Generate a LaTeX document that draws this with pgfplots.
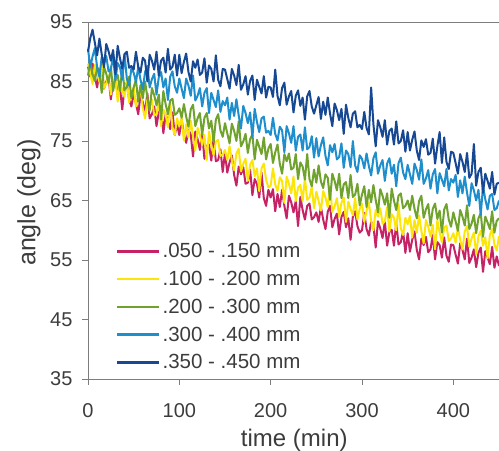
\documentclass[border=0pt]{standalone}
\usepackage{pgfplots}
\pgfplotsset{compat=1.18}
\usepackage{pgfplotstable}
\usepackage{fontspec}
\setmainfont{Liberation Sans}
\definecolor{cmag}{RGB}{198,34,102}
\definecolor{cyel}{RGB}{252,230,10}
\definecolor{cgrn}{RGB}{112,162,46}
\definecolor{clb}{RGB}{30,142,204}
\definecolor{cdb}{RGB}{22,72,148}
\definecolor{txtgray}{RGB}{60,60,60}
\definecolor{axgray}{RGB}{125,125,125}
\pgfplotstableread{
x m y g lb db
0 87.5 88.0 86.0 90.5 90.0
2.5 85.8 86.3 88.4 87.4 92.3
5 88.0 84.6 86.2 89.2 93.7
7.5 85.8 87.8 85.1 90.6 91.5
10 84.0 86.6 87.4 87.4 89.4
12.5 86.8 84.9 86.8 85.8 92.2
15 87.5 88.2 83.1 89.1 89.6
17.5 83.8 83.9 87.5 88.0 87.4
20 85.0 84.7 86.3 89.3 91.3
22.5 85.8 86.0 84.7 86.7 90.1
25 82.0 82.8 87.5 87.0 88.5
27.5 84.8 85.0 83.4 89.4 90.3
30 85.5 85.8 85.7 85.2 86.2
32.5 82.8 81.6 86.1 88.1 91.0
35 84.0 84.9 83.4 87.4 88.9
37.5 80.3 83.6 87.3 85.3 87.2
40 84.0 82.4 83.6 89.6 89.6
42.5 84.8 85.2 84.0 85.5 90.0
45 82.0 81.5 85.8 84.3 87.3
47.5 80.8 83.2 82.2 87.2 87.6
50 83.0 84.0 84.0 86.5 87.0
52.5 81.3 80.8 85.3 84.9 90.0
55 79.5 82.5 81.6 87.4 87.5
57.5 82.8 83.8 84.4 85.3 86.5
60 81.5 80.5 82.2 83.7 89.0
62.5 79.8 78.8 85.0 86.6 88.5
65 83.0 82.0 82.3 87.6 85.0
67.5 78.8 80.8 80.1 84.0 89.5
70 79.5 82.0 83.9 85.4 88.5
72.5 80.8 79.3 82.7 86.3 87.0
75 77.5 79.5 81.0 82.8 90.0
77.5 79.8 81.8 82.8 85.7 86.0
80 80.5 77.5 78.6 86.6 88.5
82.5 76.3 80.3 83.4 84.0 89.0
85 79.5 79.5 81.2 85.5 86.5
87.5 78.3 77.3 79.5 81.9 90.5
90 77.0 81.5 81.8 85.8 87.0
92.5 79.8 77.3 82.1 86.7 87.5
95 76.0 76.0 79.4 84.2 89.5
97.5 77.8 78.8 79.7 83.1 86.0
100 76.0 77.5 80.5 85.5 89.5
102.5 78.7 78.8 78.9 83.8 86.4
105 76.0 75.1 81.2 82.2 88.3
107.5 74.7 77.8 79.1 85.5 89.7
110 76.9 75.6 77.4 84.3 86.6
112.5 76.1 78.4 80.3 82.6 85.0
115 72.4 75.7 81.1 86.0 88.4
117.5 76.6 73.4 77.5 81.8 87.3
120 75.3 77.2 78.8 82.6 88.7
122.5 73.5 76.0 79.7 83.9 86.1
125 76.3 74.3 76.0 80.8 86.5
127.5 72.0 76.0 78.9 83.1 88.9
130 74.2 71.8 79.7 83.9 84.8
132.5 74.4 76.6 77.1 79.7 87.7
135 71.7 74.4 78.4 83.1 87.1
137.5 75.4 72.6 74.8 81.9 85.0
140 71.6 74.9 78.6 80.7 89.4
142.5 71.8 75.2 79.5 83.5 85.3
145 73.6 72.5 76.8 79.9 84.2
147.5 69.8 72.7 75.7 81.7 87.1
150 73.0 73.5 78.0 81.0 87.0
152.5 69.7 71.8 76.3 82.3 85.4
155 71.4 74.1 74.6 78.6 83.8
157.5 72.6 71.8 77.9 81.4 87.1
160 69.3 70.1 76.7 79.2 86.0
162.5 67.5 72.9 75.0 82.0 84.4
165 70.7 73.7 78.3 79.3 87.8
167.5 69.4 69.9 74.1 77.1 83.6
170 70.6 71.2 74.9 80.9 84.5
172.5 67.8 72.0 76.2 79.7 85.9
175 68.0 68.3 73.0 78.0 82.8
177.5 70.2 71.0 75.3 79.8 85.1
180 65.9 71.8 76.1 75.6 86.0
182.5 68.6 69.1 71.9 80.4 81.9
185 67.8 70.4 75.2 78.2 85.3
187.5 65.5 66.6 74.0 76.5 84.1
190 69.7 70.4 72.8 78.8 83.0
192.5 65.4 71.2 75.6 79.1 85.9
195 64.1 68.5 71.9 76.4 82.3
197.5 66.8 67.2 73.7 76.7 84.1
200 65.5 67.5 74.5 76.0 84.0
202.5 66.9 70.4 71.3 78.9 82.4
205 63.2 67.7 73.1 76.2 87.0
207.5 66.1 66.6 74.4 75.1 82.6
210 63.9 68.9 71.2 77.4 81.0
212.5 66.8 68.3 69.5 76.8 83.9
215 64.1 64.6 72.8 73.1 84.8
217.5 62.0 69.0 71.6 77.5 81.1
220 65.8 67.8 72.9 76.3 82.5
222.5 64.7 66.2 70.2 74.7 83.4
225 63.0 69.0 70.5 77.5 79.8
227.5 64.9 64.9 72.8 73.4 82.6
230 60.7 67.2 68.6 75.7 83.5
232.5 65.6 67.6 71.4 76.1 80.9
235 63.4 64.9 70.7 73.4 82.3
237.5 61.8 68.8 68.5 77.3 78.6
240 64.1 65.1 72.8 73.6 82.5
242.5 64.5 65.5 68.6 74.0 83.4
245 61.8 67.3 67.4 75.8 80.8
247.5 62.2 63.7 70.2 72.2 79.6
250 63.0 66.5 68.0 75.5 81.0
252.5 61.4 64.9 70.9 72.4 82.4
255 63.9 63.3 68.2 74.3 78.7
257.5 61.8 66.6 67.1 75.6 81.6
260 60.2 65.5 69.4 72.5 79.4
262.5 63.1 63.9 68.8 70.9 82.3
265 64.1 67.3 65.1 74.3 79.6
267.5 60.5 63.1 69.5 73.1 77.5
270 61.9 64.0 68.3 74.5 81.3
272.5 62.8 65.4 66.7 71.9 80.2
275 59.3 62.3 69.5 72.3 78.5
277.5 62.2 64.6 65.4 74.6 80.4
280 63.1 65.5 67.7 70.5 76.2
282.5 60.5 61.4 68.1 73.4 81.1
285 62.0 64.8 65.4 72.8 78.9
287.5 58.4 63.6 69.3 70.6 77.3
290 62.3 62.5 65.6 75.0 79.6
292.5 63.2 65.4 66.0 70.9 80.0
295 60.7 61.8 67.8 69.8 77.3
297.5 59.6 63.6 64.2 72.6 77.7
300 60.0 64.5 66.0 72.0 77.0
302.5 62.9 61.4 67.4 70.4 79.9
305 60.2 63.3 63.9 72.9 77.2
307.5 59.1 64.7 66.8 70.8 76.1
310 61.4 61.6 64.7 69.2 84.0
312.5 60.8 60.0 67.6 72.1 77.8
315 57.1 63.4 65.1 73.1 74.1
317.5 61.5 62.3 63.0 69.5 78.5
320 60.3 63.7 66.9 70.9 77.3
322.5 58.7 61.1 65.8 71.8 75.7
325 61.5 61.5 64.3 68.3 78.5
327.5 57.4 63.9 66.2 71.2 74.4
330 59.7 59.8 62.1 72.1 76.7
332.5 60.1 62.7 67.0 69.5 77.1
335 57.4 62.1 65.0 71.0 74.4
337.5 61.3 60.0 63.4 67.4 78.3
340 57.6 64.4 65.8 71.3 74.6
342.5 58.0 60.3 66.2 72.2 75.0
345 59.8 59.2 63.7 69.7 76.8
347.5 56.2 62.1 64.1 68.6 73.2
350 59.5 61.0 65.0 71.0 76.5
352.5 56.4 62.4 63.4 69.4 73.4
355 58.4 58.8 65.8 67.8 75.2
357.5 59.8 61.7 63.6 71.2 76.6
360 56.7 59.6 62.0 70.1 73.4
362.5 55.1 62.5 64.9 68.5 71.8
365 58.6 59.9 65.8 71.9 75.1
367.5 57.5 57.8 62.1 67.8 74.0
370 58.9 61.7 63.5 68.7 75.3
372.5 56.3 60.6 64.4 70.1 72.7
375 56.8 59.0 60.8 67.0 73.0
377.5 59.2 60.9 63.6 69.4 75.4
380 55.1 56.8 64.5 70.3 71.2
382.5 58.0 61.7 61.9 66.2 74.1
385 57.5 59.6 63.3 69.6 76.5
387.5 55.4 58.0 59.6 68.5 71.3
390 58.8 60.4 63.5 67.4 75.6
392.5 55.7 60.8 64.4 70.3 71.5
395 54.7 58.2 61.8 66.7 70.3
397.5 57.6 58.6 60.6 68.6 73.2
400 57.5 59.5 63.0 68.0 73.0
402.5 55.9 57.9 61.5 69.3 71.3
405 54.4 60.4 59.9 65.6 69.5
407.5 57.8 58.4 63.4 68.4 72.8
410 56.7 56.8 62.3 66.2 71.5
412.5 55.1 59.8 60.8 69.0 69.8
415 58.6 60.7 64.2 66.3 73.0
417.5 54.5 57.2 60.2 64.1 68.8
420 55.4 58.6 61.1 67.9 69.5
422.5 56.8 59.6 62.6 66.7 74.5
425 53.8 56.0 59.5 65.0 67.5
427.5 56.2 59.0 62.0 66.8 69.8
430 57.1 59.9 62.9 62.6 70.5
432.5 53.0 57.4 58.9 67.4 66.3
435 56.5 58.8 62.3 65.2 69.5
437.5 55.4 55.3 61.3 63.5 68.3
440 54.3 59.2 60.2 65.8 67.0
442.5 57.2 60.2 63.2 66.1 69.8
445 53.7 57.6 59.6 63.4 66.0
447.5 55.6 56.6 61.6 63.7 67.8
450 54.0 59.0 62.0 65.0 68.0
}\datatable
\begin{document}
\begin{tikzpicture}
\useasboundingbox (-88bp,-72bp) rectangle (411bp,379bp);
\begin{axis}[
  at={(0,0)}, anchor=south west,
  scale only axis, width=411bp, height=357bp,
  xmin=0, xmax=450, ymin=35, ymax=95,
  clip=false,
  axis line style={draw=none},
  xtick pos=left, ytick pos=left,
  xtick={0,100,200,300,400}, ytick={35,45,...,95},
  tick align=outside, major tick length=6bp,
  tick style={draw=none},
  /pgf/number format/assume math mode=true,
  tick label style={font=\fontsize{20bp}{24bp}\selectfont, text=txtgray},
  xticklabel style={yshift=-15bp},
  yticklabel style={xshift=-6bp},
  xlabel={time (min)}, ylabel={angle (deg)},
  xlabel style={font=\fontsize{24bp}{28bp}\selectfont, text=txtgray, at={(axis description cs:0.502,0)}, anchor=center, yshift=-61bp},
  ylabel style={font=\fontsize{25bp}{28bp}\selectfont, text=txtgray, at={(axis description cs:0,0.494)}, anchor=center, yshift=59bp},
  legend style={at={(axis description cs:0.068,0.386)}, anchor=north west, draw=none, fill=none,
    font=\fontsize{20.5bp}{24bp}\selectfont, text=txtgray, row sep=8bp, inner sep=0pt},
  legend cell align=left,
  legend image code/.code={\draw[#1, line width=2.5bp] (0bp,0bp) -- (42bp,0bp);},
  every axis plot/.append style={line width=2bp, line join=round},
]
\draw[axgray, line width=0.9bp] (rel axis cs:0,1) -- (rel axis cs:0,0) -- (rel axis cs:1,0);
\draw[axgray, line width=0.9bp] (rel axis cs:0,1) -- (rel axis cs:1,1);
\draw[axgray, line width=0.9bp] (axis cs:0,35) -- ([yshift=-6bp]axis cs:0,35);
\draw[axgray, line width=0.9bp] (axis cs:100,35) -- ([yshift=-6bp]axis cs:100,35);
\draw[axgray, line width=0.9bp] (axis cs:200,35) -- ([yshift=-6bp]axis cs:200,35);
\draw[axgray, line width=0.9bp] (axis cs:300,35) -- ([yshift=-6bp]axis cs:300,35);
\draw[axgray, line width=0.9bp] (axis cs:400,35) -- ([yshift=-6bp]axis cs:400,35);
\draw[axgray, line width=0.9bp] (axis cs:0,35) -- ([xshift=-6bp]axis cs:0,35);
\draw[axgray, line width=0.9bp] (axis cs:0,45) -- ([xshift=-6bp]axis cs:0,45);
\draw[axgray, line width=0.9bp] (axis cs:0,55) -- ([xshift=-6bp]axis cs:0,55);
\draw[axgray, line width=0.9bp] (axis cs:0,65) -- ([xshift=-6bp]axis cs:0,65);
\draw[axgray, line width=0.9bp] (axis cs:0,75) -- ([xshift=-6bp]axis cs:0,75);
\draw[axgray, line width=0.9bp] (axis cs:0,85) -- ([xshift=-6bp]axis cs:0,85);
\draw[axgray, line width=0.9bp] (axis cs:0,95) -- ([xshift=-6bp]axis cs:0,95);
\addplot[cmag] table[x=x, y=m] {\datatable};
\addplot[cyel] table[x=x, y=y] {\datatable};
\addplot[cgrn] table[x=x, y=g] {\datatable};
\addplot[clb] table[x=x, y=lb] {\datatable};
\addplot[cdb] table[x=x, y=db] {\datatable};
\legend{.050 - .150 mm, .100 - .200 mm, .200 - .300 mm, .300 - .400 mm, .350 - .450 mm}
\end{axis}
\end{tikzpicture}
\end{document}
